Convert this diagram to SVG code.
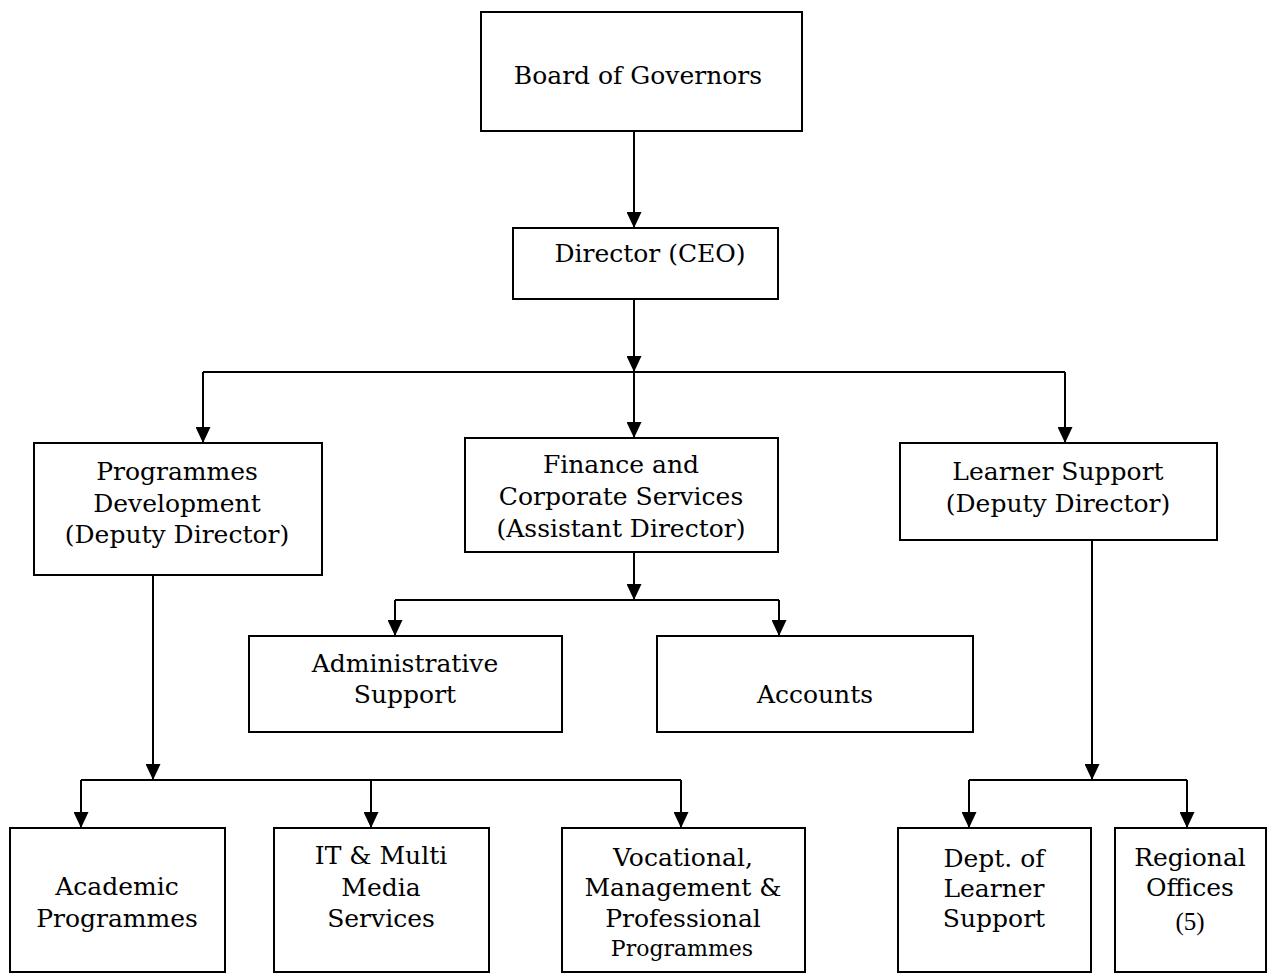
<svg xmlns="http://www.w3.org/2000/svg" width="1287" height="979" viewBox="0 0 1287 979">
<style>
.box{fill:#fff;stroke:#000;stroke-width:2}
.t{font-family:"DejaVu Serif","Liberation Serif",serif;font-size:25px;fill:#000;text-anchor:middle}
.s{font-family:"DejaVu Serif","Liberation Serif",serif;font-size:22px;fill:#000;text-anchor:middle}
.n{font-family:"Liberation Serif",serif;font-size:25px;fill:#000;text-anchor:middle}
.c{fill:none;stroke:#000;stroke-width:2}
</style>
<defs>
<marker id="ah" markerUnits="userSpaceOnUse" markerWidth="16" markerHeight="15" refX="16" refY="7.5" orient="auto" viewBox="0 0 16 15">
<path d="M0,0 L16,7.5 L0,15 z" fill="#000"/>
</marker>
</defs>
<rect width="1287" height="979" fill="#fff"/>
<g id="connectors">
<path class="c" d="M634,131 V228" marker-end="url(#ah)"/>
<path class="c" d="M634,299 V372" marker-end="url(#ah)"/>
<path class="c" d="M203,372 H1065"/>
<path class="c" d="M203,372 V443" marker-end="url(#ah)"/>
<path class="c" d="M634,372 V438" marker-end="url(#ah)"/>
<path class="c" d="M1065,372 V443" marker-end="url(#ah)"/>
<path class="c" d="M634,552 V600" marker-end="url(#ah)"/>
<path class="c" d="M395,600 H779"/>
<path class="c" d="M395,600 V636" marker-end="url(#ah)"/>
<path class="c" d="M779,600 V636" marker-end="url(#ah)"/>
<path class="c" d="M153,575 V780" marker-end="url(#ah)"/>
<path class="c" d="M81,780 H681"/>
<path class="c" d="M81,780 V828" marker-end="url(#ah)"/>
<path class="c" d="M371,780 V828" marker-end="url(#ah)"/>
<path class="c" d="M681,780 V828" marker-end="url(#ah)"/>
<path class="c" d="M1092,540 V780" marker-end="url(#ah)"/>
<path class="c" d="M969,780 H1187"/>
<path class="c" d="M969,780 V828" marker-end="url(#ah)"/>
<path class="c" d="M1187,780 V828" marker-end="url(#ah)"/>
</g>
<g id="board">
<rect class="box" x="481" y="12" width="321" height="119"/>
<text class="t" x="638" y="84">Board of Governors</text>
</g>
<g id="director">
<rect class="box" x="513" y="228" width="265" height="71"/>
<text class="t" x="650" y="262">Director (CEO)</text>
</g>
<g id="programmes-development">
<rect class="box" x="34" y="443" width="288" height="132"/>
<text class="t" x="177" y="480">Programmes</text>
<text class="t" x="177" y="512">Development</text>
<text class="t" x="177" y="543">(Deputy Director)</text>
</g>
<g id="finance">
<rect class="box" x="465" y="438" width="313" height="114"/>
<text class="t" x="621" y="473">Finance and</text>
<text class="t" x="621" y="505">Corporate Services</text>
<text class="t" x="621" y="537">(Assistant Director)</text>
</g>
<g id="learner-support">
<rect class="box" x="900" y="443" width="317" height="97"/>
<text class="t" x="1058" y="480">Learner Support</text>
<text class="t" x="1058" y="512">(Deputy Director)</text>
</g>
<g id="administrative-support">
<rect class="box" x="249" y="636" width="313" height="96"/>
<text class="t" x="405" y="672">Administrative</text>
<text class="t" x="405" y="703">Support</text>
</g>
<g id="accounts">
<rect class="box" x="657" y="636" width="316" height="96"/>
<text class="t" x="815" y="703">Accounts</text>
</g>
<g id="academic">
<rect class="box" x="10" y="828" width="215" height="144"/>
<text class="t" x="117" y="895">Academic</text>
<text class="t" x="117" y="927">Programmes</text>
</g>
<g id="it-multimedia">
<rect class="box" x="274" y="828" width="215" height="144"/>
<text class="t" x="381" y="864">IT &amp; Multi</text>
<text class="t" x="381" y="896">Media</text>
<text class="t" x="381" y="927">Services</text>
</g>
<g id="vocational">
<rect class="box" x="562" y="828" width="243" height="144"/>
<text class="t" x="683" y="866">Vocational,</text>
<text class="t" x="683" y="896">Management &amp;</text>
<text class="t" x="683" y="927">Professional</text>
<text class="s" x="682" y="956">Programmes</text>
</g>
<g id="dept-learner-support">
<rect class="box" x="898" y="828" width="193" height="144"/>
<text class="t" x="994" y="867">Dept. of</text>
<text class="t" x="994" y="897">Learner</text>
<text class="t" x="994" y="927">Support</text>
</g>
<g id="regional-offices">
<rect class="box" x="1115" y="828" width="151" height="144"/>
<text class="t" x="1190" y="866">Regional</text>
<text class="t" x="1190" y="896">Offices</text>
<text class="n" x="1190" y="930">(5)</text>
</g>
</svg>
